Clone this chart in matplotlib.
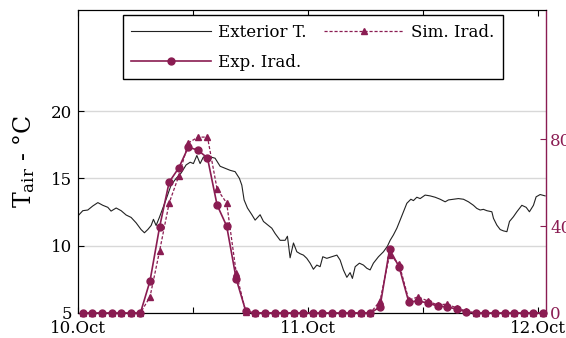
import numpy as np
import matplotlib.pyplot as plt

plt.rcParams['font.family'] = 'DejaVu Serif'
plt.rcParams['mathtext.fontset'] = 'dejavuserif'

maroon = '#8a1c52'

# exterior temperature (hours from 10.Oct 00:00, degC)
ext_h = [0.07, 0.49, 1.01, 1.53, 2.06, 2.58, 3.10, 3.44, 3.97, 4.49, 5.01, 5.53,
         6.05, 6.57, 6.92, 7.27, 7.62, 7.86, 8.14, 8.48, 8.90, 9.26, 9.70, 10.23,
         10.75, 11.27, 11.69, 12.03, 12.39, 12.73, 13.08, 13.43, 13.77, 14.29,
         14.82, 15.34, 15.86, 16.38, 16.83, 17.08, 17.32, 17.67, 18.13, 18.47,
         18.99, 19.34, 19.86, 20.21, 20.56, 21.08, 21.60, 21.84, 22.12, 22.47,
         22.82, 23.17, 23.51, 23.86, 24.21, 24.55, 24.91, 25.25, 25.53, 25.95,
         26.47, 27.00, 27.34, 27.68, 28.04, 28.38, 28.62, 28.91, 29.35, 29.77,
         30.13, 30.47, 30.81, 31.34, 31.86, 32.28, 32.56, 32.90, 33.26, 33.60,
         34.02, 34.30, 34.72, 34.99, 35.34, 35.69, 36.21, 36.73, 37.25, 37.78,
         38.30, 38.64, 39.16, 39.68, 40.21, 40.73, 41.25, 41.60, 41.95, 42.29,
         42.65, 43.17, 43.34, 43.69, 44.04, 44.38, 44.74, 45.01, 45.42, 45.78,
         46.30, 46.75, 47.09, 47.51, 47.79, 48.21, 48.73]
ext_t = [12.28, 12.6, 12.65, 12.95, 13.2, 13.0, 12.85, 12.57, 12.8, 12.6, 12.28, 12.1,
         11.7, 11.2, 10.96, 11.2, 11.5, 11.96, 11.5, 12.1, 12.9, 13.6, 14.5, 15.0,
         15.4, 16.0, 16.2, 16.1, 16.7, 16.1, 16.6, 16.35, 16.6, 16.5,
         15.9, 15.75, 15.6, 15.5, 15.0, 14.5, 13.4, 12.8, 12.3, 11.9,
         12.3, 11.8, 11.5, 11.3, 10.9, 10.4, 10.4, 10.7, 9.1, 10.2,
         9.55, 9.4, 9.3, 9.06, 8.7, 8.25, 8.56, 8.44, 9.18, 9.06,
         9.18, 9.3, 8.93, 8.2, 7.65, 8.0, 7.57, 8.44, 8.7, 8.56,
         8.32, 8.2, 8.7, 9.18, 9.55, 9.97, 10.4, 10.8, 11.3, 11.9,
         12.65, 13.15, 13.45, 13.35, 13.6, 13.5, 13.76, 13.7, 13.6, 13.45,
         13.26, 13.4, 13.45, 13.5, 13.45, 13.26, 13.0, 12.77, 12.65, 12.7,
         12.6, 12.52, 12.03, 11.53, 11.2, 11.1, 11.04, 11.8, 12.15, 12.52,
         13.0, 12.85, 12.52, 13.0, 13.63, 13.8, 13.7]

# hourly irradiance, W/m2, stamped at the middle of each hour
irr_h = np.arange(49) + 0.5
exp_irr = [0, 0, 0, 0, 0, 0, 0, 147, 395, 602, 667, 763, 749, 713, 497, 400, 156, 8,
           0, 0, 0, 0, 0, 0, 0, 0, 0, 0, 0, 0, 0, 28, 294, 211, 51, 55, 46, 32, 28,
           18, 5, 0, 0, 0, 0, 0, 0, 0, 0]
sim_irr = [0, 0, 0, 0, 0, 0, 0, 74, 285, 506, 630, 782, 809, 809, 570, 506, 184, 3,
           0, 0, 0, 0, 0, 0, 0, 0, 0, 0, 0, 0, 0, 55, 267, 225, 60, 74, 55, 37, 41,
           23, 9, 0, 0, 0, 0, 0, 0, 0, 0]

day_ticks = [0, 12, 24, 36, 48]
day_labels = ['10.Oct', '', '11.Oct', '', '12.Oct']

fig = plt.figure(figsize=(5.66, 3.38), dpi=100)
ax = fig.add_axes([0.138, 0.074, 0.827, 0.896])
ax2 = ax.twinx()

l1, = ax.plot(ext_h, ext_t, color='#222222', lw=0.8, label='Exterior T.')
l2, = ax2.plot(irr_h, exp_irr, color=maroon, lw=1.2, marker='o', ms=5,
               label='Exp. Irad.', clip_on=False, zorder=4)
l3, = ax2.plot(irr_h, sim_irr, color=maroon, lw=0.9, ls=(0, (2.5, 1.5)), marker='^',
               ms=5, label='Sim. Irad.', clip_on=False, zorder=3)

ax.set_xlim(0, 48.84)
ax.set_ylim(5, 27.5)
ax.set_yticks([5, 10, 15, 20])
ax.set_xticks(day_ticks)
ax.set_xticklabels(day_labels)
ax.grid(axis='y', color='#d8d8d8', lw=1)
ax.set_axisbelow(True)
ax.tick_params(direction='in', top=True, length=4, labelsize=12, pad=4)
ax.tick_params(axis='x', pad=5)
ax.set_ylabel(r'$\mathrm{T}_{\mathrm{air}}$ - °C', fontsize=17, labelpad=10)
ax.spines['right'].set_visible(False)

ax2.set_ylim(0, 1393)
ax2.set_yticks([0, 400, 800])
ax2.tick_params(direction='in', length=4, labelsize=12, colors=maroon, pad=3)
ax2.spines['right'].set_color(maroon)
ax2.spines['right'].set_linewidth(1.0)

leg = ax2.legend([l1, l2, l3], ['Exterior T.', 'Exp. Irad.', 'Sim. Irad.'],
                 ncol=2, loc='upper center', bbox_to_anchor=(0.501, 0.983),
                 borderaxespad=0, fontsize=12, handlelength=4.8,
                 handletextpad=0.45, columnspacing=1.0, labelspacing=0.8,
                 fancybox=False, edgecolor='black', framealpha=1, borderpad=0.5)
leg.get_frame().set_linewidth(1.0)

fig.savefig('out.png', dpi=100)
